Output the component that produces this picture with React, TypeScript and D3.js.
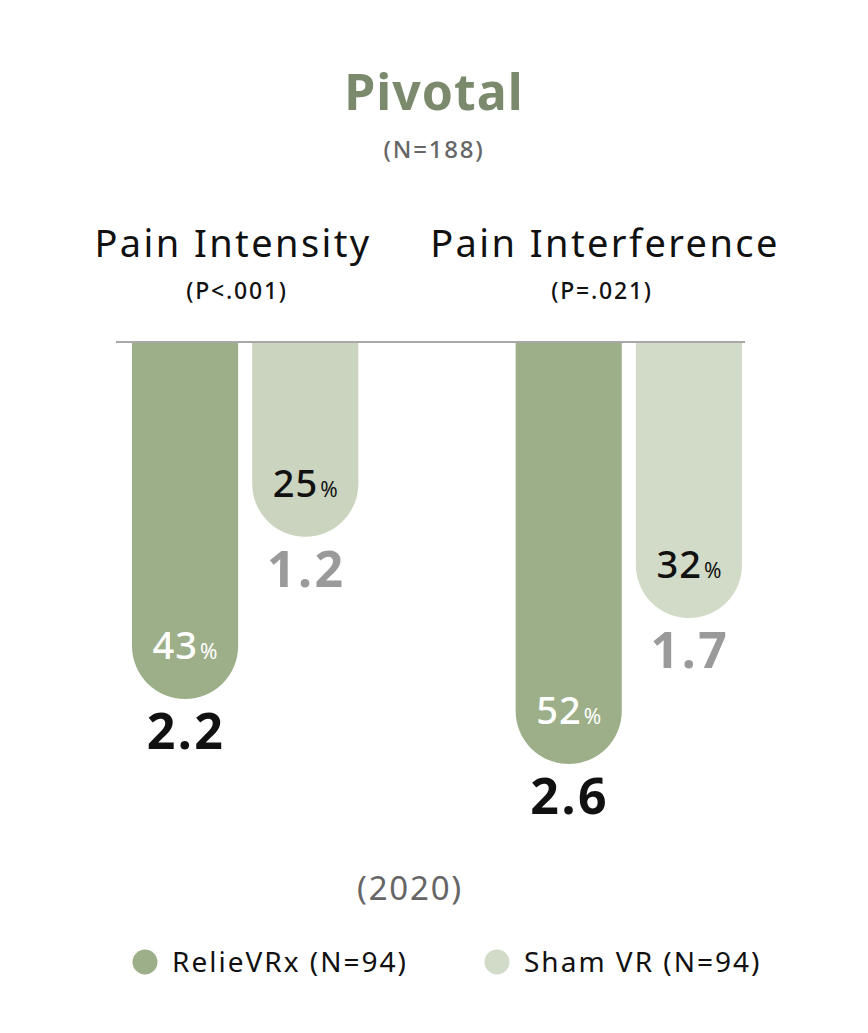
import React from 'react';
import * as d3 from 'd3';

const width = 868;
const height = 1033;

// data
const groups = ['Pain Intensity', 'Pain Interference'];
const pLabels = ['(P<.001)', '(P=.021)'];
const series = ['RelieVRx (N=94)', 'Sham VR (N=94)'];
const relieVRx = [2.2, 2.6];
const shamVR = [1.2, 1.7];
const relieVRxPct = [43, 52];
const shamPct = [25, 32];

const font = "'Noto Sans', 'Open Sans', sans-serif";
const colors = ['#9daf89', '#cad4be'];
const shamColors = ['#cad4be', '#d1dbc8'];

const baseY = 342;

const App: React.FC = () => {
  const x0 = d3.scaleBand<string>().domain(groups).range([132, 742]).paddingInner(0.41).paddingOuter(0);
  const x1 = d3.scaleBand<string>().domain(series).range([0, x0.bandwidth()]).paddingInner(0.117);
  const y = d3.scaleLinear().domain([0, 2.6]).range([baseY, baseY + 422]);

  const bars = groups.flatMap((g, i) => [
    { g, s: series[0], v: relieVRx[i], pct: relieVRxPct[i], fill: colors[0], pctColor: '#ffffff', valColor: '#111111' },
    { g, s: series[1], v: shamVR[i], pct: shamPct[i], fill: shamColors[i], pctColor: '#111111', valColor: '#9a9a9a' },
  ]);

  const barPath = (xl: number, w: number, bottom: number) => {
    const r = w / 2;
    const p = d3.path();
    p.moveTo(xl, baseY);
    p.lineTo(xl + w, baseY);
    p.lineTo(xl + w, bottom - r);
    p.arc(xl + r, bottom - r, r, 0, Math.PI, false);
    p.closePath();
    return p.toString();
  };

  const titleX = [233, 605];
  const pX = [237, 602];

  return (
    <svg width={width} height={height} style={{ position: 'absolute', left: 0, top: 0, background: '#fff' }} fontFamily={font}>
      <text x={434} y={110} textAnchor="middle" fontSize={50} fontWeight={700} fill="#7b8a6c" letterSpacing={1}>Pivotal</text>
      <text x={434} y={158} textAnchor="middle" fontSize={24} fontWeight={500} fill="#666" letterSpacing={1.8}>(N=188)</text>

      {groups.map((g, i) => (
        <g key={g}>
          <text x={titleX[i]} y={257} textAnchor="middle" fontSize={38} fill="#111" letterSpacing={2.4}>{g}</text>
          <text x={pX[i]} y={299} textAnchor="middle" fontSize={23} fontWeight={500} fill="#111" letterSpacing={1.8}>{pLabels[i]}</text>
        </g>
      ))}

      {bars.map((b) => {
        const xl = (x0(b.g) as number) + (x1(b.s) as number);
        const w = x1.bandwidth();
        const bottom = y(b.v);
        return (
          <g key={b.g + b.s}>
            <path d={barPath(xl, w, bottom)} fill={b.fill} />
            <text x={xl + w / 2} y={bottom - 40} textAnchor="middle" fill={b.pctColor}>
              <tspan fontSize={38} fontWeight={500} letterSpacing={1}>{b.pct}</tspan>
              <tspan fontSize={21} dx={2}>%</tspan>
            </text>
            <text x={xl + w / 2 + 1} y={bottom + 50} textAnchor="middle" fontSize={50} fontWeight={700} fill={b.valColor} letterSpacing={2.5}>
              {b.v.toFixed(1)}
            </text>
          </g>
        );
      })}

      <line x1={116} x2={745} y1={baseY} y2={baseY} stroke="#a8a8a8" strokeWidth={2} />

      <text x={410} y={900} textAnchor="middle" fontSize={33} fill="#666" letterSpacing={1.8}>(2020)</text>

      {series.map((s, i) => {
        const lx = i === 0 ? 145 : 497;
        return (
          <g key={s}>
            <circle cx={lx} cy={962} r={12.5} fill={i === 0 ? colors[0] : shamColors[1]} />
            <text x={lx + 27} y={972} fontSize={28} fill="#111" letterSpacing={2}>{s}</text>
          </g>
        );
      })}
    </svg>
  );
};

export default App;
